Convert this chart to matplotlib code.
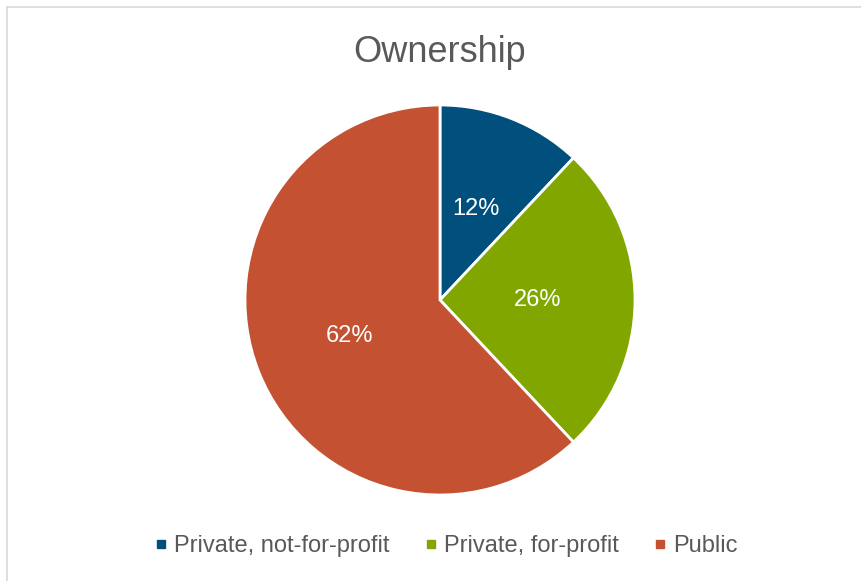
import matplotlib.pyplot as plt
from matplotlib.lines import Line2D

# datos del gráfico
categorias = ['Private, not-for-profit', 'Private, for-profit', 'Public']
valores = [12, 26, 62]
colores = ['#004F7D', '#82A600', '#C45131']

plt.rcParams['font.family'] = ['Liberation Sans', 'DejaVu Sans']

fig = plt.figure(figsize=(8.61, 5.81), dpi=100)

# borde gris claro (solo arriba e izquierda visibles)
fig.add_artist(Line2D([6.5 / 861, 6.5 / 861], [0, 1 - 7 / 581], color='#D9D9D9', lw=1.2))
fig.add_artist(Line2D([6.5 / 861, 1], [1 - 7 / 581, 1 - 7 / 581], color='#D9D9D9', lw=1.2))

# ejes del pastel: centro (440, 300) px, radio 195 px
r = 195
cx, cy = 440, 300
ax = fig.add_axes([(cx - r) / 861, (581 - cy - r) / 581, 2 * r / 861, 2 * r / 581])
wedges, textos, autotextos = ax.pie(
    valores, colors=colores, startangle=90, counterclock=False,
    autopct='%1.0f%%', pctdistance=0.5,
    wedgeprops=dict(edgecolor='white', linewidth=2),
    textprops=dict(color='white', fontsize=17))
ax.set_xlim(-1, 1)
ax.set_ylim(-1, 1)
ax.set_aspect('equal')

fig.text(cx / 861, 1 - 52 / 581, 'Ownership', ha='center', va='center',
         fontsize=26, color='#595959')

manejadores = [Line2D([], [], marker='s', linestyle='', markersize=6,
                      markerfacecolor=c, markeredgecolor=c) for c in colores]
fig.legend(manejadores, categorias, ncol=3, loc='center',
           bbox_to_anchor=(446 / 861, 1 - 546 / 581), frameon=False,
           fontsize=17, labelcolor='#595959', handlelength=0.6,
           handletextpad=0.25, columnspacing=1.45)

fig.savefig('out.png', dpi=100)
